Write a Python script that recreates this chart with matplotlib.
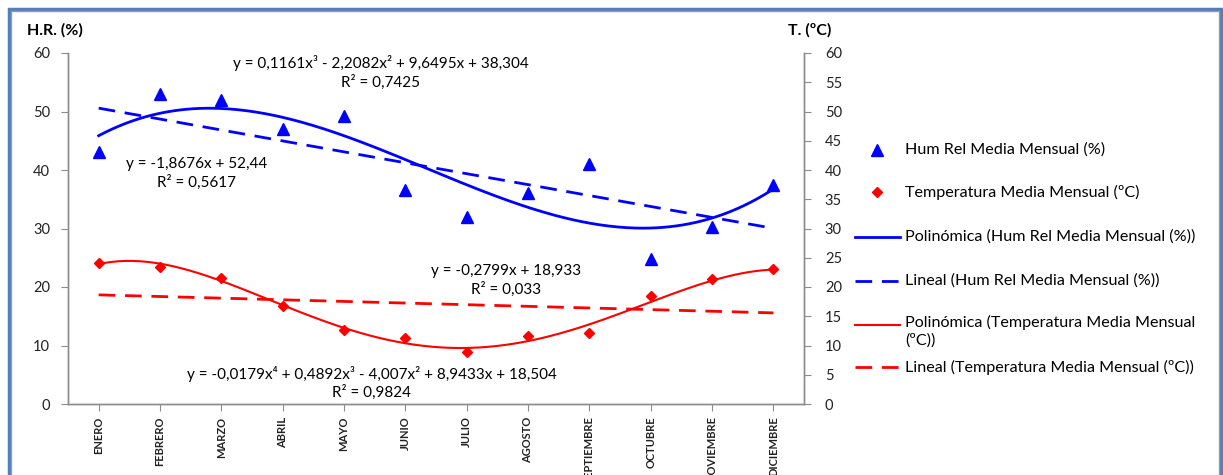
import numpy as np
import matplotlib
matplotlib.use("Agg")
import matplotlib.pyplot as plt
from matplotlib.lines import Line2D
from matplotlib.patches import Rectangle

plt.rcParams['font.family'] = ['Lato', 'DejaVu Sans']

months = ["ENERO", "FEBRERO", "MARZO", "ABRIL", "MAYO", "JUNIO", "JULIO",
          "AGOSTO", "SEPTIEMBRE", "OCTUBRE", "NOVIEMBRE", "DICIEMBRE"]
hum = [43.0, 53.0, 52.0, 47.0, 49.2, 36.6, 32.0, 36.0, 41.0, 24.8, 30.3, 37.5]
temp = [24.1, 23.4, 21.5, 16.7, 12.6, 11.3, 8.9, 11.6, 12.1, 18.5, 21.4, 23.1]

# trendline coefficients (Excel, x = 1..12), highest power first
hum_poly = [0.1161, -2.2082, 9.6495, 38.304]
hum_lin = [-1.8676, 52.44]
temp_poly = [-0.0179, 0.4892, -4.007, 8.9433, 18.504]
temp_lin = [-0.2799, 18.933]

eq_hum_poly = "y = 0,1161x³ - 2,2082x² + 9,6495x + 38,304\nR² = 0,7425"
eq_hum_lin = "y = -1,8676x + 52,44\nR² = 0,5617"
eq_temp_lin = "y = -0,2799x + 18,933\nR² = 0,033"
eq_temp_poly = "y = -0,0179x⁴ + 0,4892x³ - 4,007x² + 8,9433x + 18,504\nR² = 0,9824"

lab_hum = "Hum Rel Media Mensual (%)"
lab_temp = "Temperatura Media Mensual (ºC)"
lab_hp = "Polinómica (Hum Rel Media Mensual (%))"
lab_hl = "Lineal (Hum Rel Media Mensual (%))"
lab_tp = "Polinómica (Temperatura Media Mensual\n(ºC))"
lab_tl = "Lineal (Temperatura Media Mensual (ºC))"

W, H = 1223, 475
fig = plt.figure(figsize=(W / 100, H / 100), dpi=100)

def fx(px):
    return px / W

def fy(py):
    return 1 - py / H

ax = fig.add_axes([fx(68), fy(404), fx(804) - fx(68), fy(53) - fy(404)])
ax2 = ax.twinx()

x = np.arange(len(months))
xs = np.linspace(1, 12, 300)

BLUE = "#0000FF"
RED = "#FF0000"
GREY = "#8C8C8C"

ax.plot(x, hum, linestyle="none", marker="^", color=BLUE, markersize=8, zorder=5)
ax.plot(xs - 1, np.polyval(hum_poly, xs), color=BLUE, lw=2.0)
ax.plot(xs - 1, np.polyval(hum_lin, xs), color=BLUE, lw=2.0, dashes=(6, 3.5))

ax2.plot(x, temp, linestyle="none", marker="D", color=RED, markersize=5.5, zorder=5)
ax2.plot(xs - 1, np.polyval(temp_poly, xs), color=RED, lw=1.5)
ax2.plot(xs - 1, np.polyval(temp_lin, xs), color=RED, lw=2.0, dashes=(6, 3.5))

for a in (ax, ax2):
    a.set_xlim(-0.5, 11.5)
    a.set_ylim(0, 60)
    for s in a.spines.values():
        s.set_color(GREY)
        s.set_linewidth(1.0)
    a.spines['top'].set_visible(False)

ax.set_yticks(np.arange(0, 61, 10))
ax2.set_yticks(np.arange(0, 61, 5))
ax.set_xticks(x)
ax.set_xticklabels(months, rotation=90, fontsize=8, fontweight='bold', color="#222222")
ax.tick_params(axis='x', length=5, color=GREY, pad=4)
ax.tick_params(axis='y', length=5, color=GREY, labelsize=10.5, labelcolor="#222222", pad=8)
ax2.tick_params(axis='y', length=5, color=GREY, labelsize=10.5, labelcolor="#222222", pad=10)

fs = 11
ax.text(4.6, 56.65, eq_hum_poly, ha='center', va='center', fontsize=fs,
        multialignment='center', linespacing=1.3)
ax.text(1.6, 39.4, eq_hum_lin, ha='center', va='center', fontsize=fs,
        multialignment='center', linespacing=1.3)
ax.text(6.64, 21.1, eq_temp_lin, ha='center', va='center', fontsize=fs,
        multialignment='center', linespacing=1.3)
ax.text(4.45, 3.6, eq_temp_poly, ha='center', va='center', fontsize=fs,
        multialignment='center', linespacing=1.3)

fig.text(fx(27), fy(30), "H.R. (%)", ha='left', va='center', fontsize=11.5, fontweight='bold')
fig.text(fx(788), fy(30), "T. (ºC)", ha='left', va='center', fontsize=11.5, fontweight='bold')

# legend (drawn manually to follow the reference's spacing)
lfs = 11.6
tx = fx(905)
entries = [
    (150, dict(marker='^', color=BLUE, markersize=8, linestyle='none'), lab_hum, 'm'),
    (192, dict(marker='D', color=RED, markersize=5.5, linestyle='none'), lab_temp, 'm'),
    (237, dict(color=BLUE, lw=2.0), lab_hp, 'l'),
    (281, dict(color=BLUE, lw=2.0, dashes=(6, 3.5)), lab_hl, 'l'),
    (325, dict(color=RED, lw=1.5), lab_tp, 'l'),
    (367, dict(color=RED, lw=2.0, dashes=(6, 3.5)), lab_tl, 'l'),
]
for py, style, lab, kind in entries:
    if kind == 'm':
        fig.add_artist(Line2D([fx(877)], [fy(py)], transform=fig.transFigure, **style))
    else:
        fig.add_artist(Line2D([fx(855), fx(900)], [fy(py), fy(py)], transform=fig.transFigure, **style))
    if '\n' in lab:
        fig.text(tx, fy(py - 10), lab, ha='left', va='top', fontsize=lfs, linespacing=1.25)
    else:
        fig.text(tx, fy(py), lab, ha='left', va='center', fontsize=lfs)

# chart border
fig.add_artist(Rectangle((fx(9), -0.05), fx(1221) - fx(9), fy(9) + 0.05, transform=fig.transFigure,
                         fill=False, edgecolor="#4F81BD", lw=2.5))
fig.add_artist(Rectangle((fx(11), -0.05), fx(1219) - fx(11), fy(11) + 0.05, transform=fig.transFigure,
                         fill=False, edgecolor="#9A9A9A", lw=1.0))

fig.savefig("out.png", dpi=100)
